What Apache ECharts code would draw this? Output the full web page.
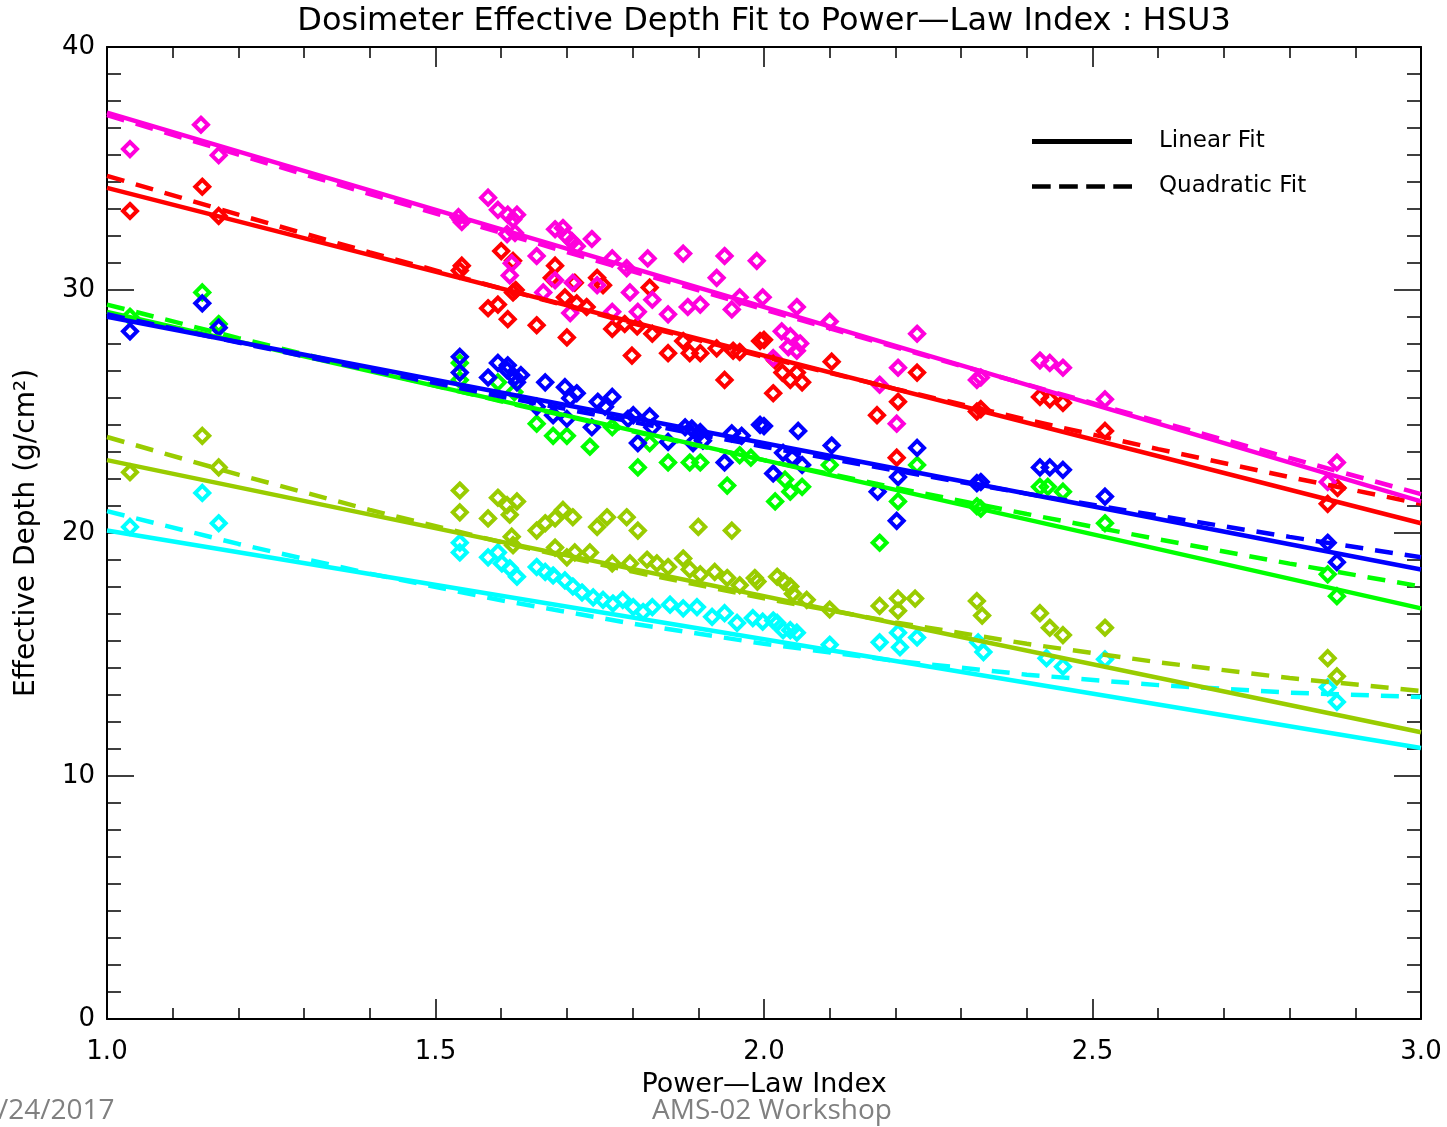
<!DOCTYPE html>
<html>
<head>
<meta charset="utf-8">
<script src="https://cdn.jsdelivr.net/npm/echarts@6/dist/echarts.min.js"></script>
<style>
html,body{margin:0;padding:0;background:#fff;}
#chart{width:1447px;height:1127px;}
</style>
</head>
<body>
<div id="chart"></div>
<script>
// ---- Data ----
const xTicks = [1.0, 1.5, 2.0, 2.5, 3.0];
const yTicks = [0, 10, 20, 30, 40];

const linX = [1.0, 3.0];
const magentaLin = [37.3, 21.3];
const redLin = [34.2, 20.4];
const blueLin = [28.9, 18.5];
const greenLin = [29.1, 16.9];
const ygLin = [23.0, 11.8];
const cyanLin = [20.1, 11.15];

const quadX = [1.0, 1.2, 1.4, 1.6, 1.8, 2.0, 2.2, 2.4, 2.6, 2.8, 3.0];
const magentaQuad = [37.2, 35.57, 33.95, 32.35, 30.77, 29.2, 27.65, 26.11, 24.59, 23.09, 21.6];
const redQuad = [34.7, 33.10, 31.55, 30.06, 28.63, 27.25, 25.93, 24.66, 23.45, 22.30, 21.2];
const blueQuad = [29.0, 27.84, 26.71, 25.62, 24.57, 23.55, 22.57, 21.62, 20.71, 19.84, 19.0];
const greenQuad = [29.4, 28.02, 26.70, 25.42, 24.18, 23.0, 21.86, 20.78, 19.74, 18.74, 17.8];
const ygQuad = [23.95, 22.40, 20.95, 19.62, 18.41, 17.31, 16.32, 15.44, 14.68, 14.03, 13.5];
const cyanQuad = [20.9, 19.55, 18.33, 17.23, 16.27, 15.44, 14.74, 14.17, 13.74, 13.43, 13.25];

const magentaPts = [[1.035,35.8],[1.143,36.8],[1.170,35.55],[1.535,33.0],[1.54,32.8],
 [1.580,33.8],[1.595,33.3],[1.610,33.1],[1.624,33.1],[1.618,32.9],[1.609,32.3],[1.621,32.35],[1.616,31.1],[1.613,30.6],
 [1.654,31.4],[1.664,29.9],[1.682,32.5],[1.694,32.55],[1.700,32.2],[1.708,32.0],[1.715,31.8],[1.738,32.1],[1.682,30.4],
 [1.709,30.3],[1.705,29.05],[1.746,30.2],[1.769,31.3],[1.769,29.1],[1.791,30.9],[1.796,29.9],[1.808,29.1],[1.823,31.3],
 [1.830,29.6],[1.854,29.0],[1.877,31.5],[1.884,29.3],[1.903,29.4],[1.928,30.5],[1.940,31.4],[1.951,29.2],[1.963,29.7],
 [1.989,31.2],[1.998,29.7],[2.014,27.2],[2.027,28.3],[2.040,28.1],[2.037,27.65],[2.055,27.8],[2.050,27.5],[2.050,29.3],
 [2.100,28.7],[2.176,26.1],[2.202,24.5],[2.233,28.2],[2.204,26.8],[2.324,26.3],[2.33,26.4],[2.42,27.1],[2.435,27.0],
 [2.455,26.8],[2.519,25.5],[2.872,22.9],[2.858,22.1]];

const redPts = [[1.035,33.25],[1.145,34.25],[1.170,33.05],[1.537,30.8],[1.54,31.0],
 [1.600,31.6],[1.618,31.2],[1.580,29.25],[1.595,29.4],[1.610,28.8],[1.618,29.9],[1.622,30.0],[1.654,28.55],[1.682,31.0],
 [1.677,30.5],[1.700,28.05],[1.697,29.7],[1.715,29.45],[1.730,29.3],[1.712,30.3],[1.746,30.5],[1.755,30.2],[1.769,28.4],
 [1.788,28.6],[1.807,28.5],[1.799,27.3],[1.826,30.1],[1.830,28.2],[1.854,27.4],[1.877,27.9],[1.887,27.4],[1.903,27.4],
 [1.928,27.6],[1.940,26.3],[1.953,27.5],[1.963,27.45],[1.994,27.9],[2.0,27.95],[2.017,27.1],[2.014,25.75],[2.028,26.6],
 [2.040,26.3],[2.050,26.6],[2.058,26.2],[2.103,27.05],[2.172,24.85],[2.204,25.4],[2.233,26.6],[2.202,23.1],[2.324,25.0],
 [2.33,25.1],[2.42,25.6],[2.435,25.5],[2.455,25.35],[2.519,24.2],[2.873,21.85],[2.858,21.2]];

const bluePts = [[1.035,28.3],[1.145,29.45],[1.170,28.45],[1.537,27.25],[1.537,26.6],
 [1.580,26.4],[1.595,27.0],[1.609,26.7],[1.621,26.4],[1.624,26.2],[1.61,26.9],[1.63,26.5],[1.654,25.2],[1.667,26.2],
 [1.679,24.85],[1.697,26.0],[1.705,25.55],[1.715,25.75],[1.700,24.7],[1.738,24.35],[1.747,25.4],[1.769,25.6],[1.758,25.2],
 [1.793,24.7],[1.801,24.85],[1.808,23.7],[1.826,24.8],[1.830,24.35],[1.854,23.75],[1.880,24.35],[1.890,24.3],[1.903,24.15],
 [1.892,23.7],[1.907,23.8],[1.940,22.9],[1.951,24.1],[1.966,24.0],[1.994,24.45],[2.0,24.4],[2.014,22.45],[2.029,23.3],
 [2.043,23.1],[2.058,22.8],[2.052,24.2],[2.103,23.6],[2.173,21.7],[2.233,23.5],[2.204,22.3],[2.202,20.5],[2.324,22.05],
 [2.33,22.1],[2.42,22.7],[2.435,22.7],[2.455,22.6],[2.519,21.5],[2.858,19.6],[2.872,18.8]];

const greenPts = [[1.035,28.9],[1.145,29.9],[1.170,28.6],[1.537,27.0],[1.537,26.3],
 [1.595,26.2],[1.62,25.8],[1.654,24.5],[1.679,24.0],[1.700,24.0],[1.735,23.55],[1.769,24.35],[1.808,22.7],[1.826,23.7],
 [1.854,22.9],[1.887,22.9],[1.903,22.9],[1.944,21.95],[1.963,23.2],[1.98,23.1],[2.017,21.3],[2.040,21.7],[2.058,21.9],
 [2.032,22.2],[2.100,22.8],[2.176,19.6],[2.233,22.8],[2.204,21.3],[2.324,21.1],[2.33,21.0],[2.42,21.9],[2.432,21.9],
 [2.455,21.7],[2.519,20.4],[2.858,18.3],[2.872,17.4]];

const ygPts = [[1.035,22.5],[1.145,24.0],[1.170,22.7],[1.537,21.75],[1.537,20.85],[1.58,20.6],[1.595,21.45],[1.609,21.15],
 [1.624,21.3],[1.613,20.75],[1.616,19.85],[1.618,19.5],[1.654,20.1],[1.667,20.4],[1.682,20.6],[1.694,20.95],[1.709,20.65],
 [1.746,20.25],[1.761,20.65],[1.791,20.65],[1.808,20.1],[1.9,20.25],[1.951,20.1],
 [1.682,19.4],[1.700,19.0],[1.712,19.2],[1.735,19.2],[1.769,18.75],[1.796,18.75],[1.822,18.9],[1.837,18.75],[1.854,18.6],
 [1.877,18.95],[1.887,18.5],[1.903,18.3],[1.925,18.4],[1.944,18.15],[1.963,17.85],[1.986,18.15],[1.99,18.0],[2.020,18.2],
 [2.03,18.0],[2.04,17.8],[2.044,17.5],[2.065,17.25],[2.1,16.85],
 [2.176,17.0],[2.204,17.3],[2.204,16.8],[2.230,17.3],[2.324,17.2],[2.332,16.6],[2.42,16.7],[2.435,16.1],[2.455,15.8],
 [2.519,16.1],[2.858,14.85],[2.872,14.1]];

const cyanPts = [[1.035,20.25],[1.145,21.65],[1.170,20.4],[1.537,19.6],[1.537,19.2],[1.580,19.0],[1.595,19.2],[1.601,18.75],
 [1.613,18.55],[1.624,18.2],[1.654,18.6],[1.667,18.4],[1.679,18.25],[1.697,18.05],[1.709,17.8],[1.723,17.55],[1.740,17.35],
 [1.755,17.25],[1.770,17.1],[1.785,17.25],[1.801,16.95],[1.816,16.75],[1.830,16.95],[1.857,17.05],[1.877,16.9],[1.898,16.95],
 [1.921,16.55],[1.940,16.7],[1.959,16.3],[1.983,16.5],[1.998,16.35],[2.014,16.4],[2.02,16.3],[2.029,16.0],[2.04,16.0],
 [2.050,15.9],[2.100,15.4],[2.176,15.5],[2.204,15.9],[2.207,15.3],[2.233,15.7],[2.326,15.5],[2.334,15.1],[2.430,14.85],
 [2.455,14.5],[2.519,14.8],[2.858,13.65],[2.872,13.05]];

const legendNames = ['Linear Fit', 'Quadratic Fit'];

// ---- Styling ----
const FONT = 'DejaVu Sans';
const groups = [
  {name:'cyan', color:'#00ffff', pts:cyanPts, lin:cyanLin, quad:cyanQuad},
  {name:'yg', color:'#99cc00', pts:ygPts, lin:ygLin, quad:ygQuad},
  {name:'green', color:'#00ff00', pts:greenPts, lin:greenLin, quad:greenQuad},
  {name:'blue', color:'#0000ff', pts:bluePts, lin:blueLin, quad:blueQuad},
  {name:'red', color:'#ff0000', pts:redPts, lin:redLin, quad:redQuad},
  {name:'magenta', color:'#ff00dc', pts:magentaPts, lin:magentaLin, quad:magentaQuad}
];

const series = [];
groups.forEach(g => {
  series.push({
    type:'scatter', name:g.name+' pts', data:g.pts, symbol:'diamond', symbolSize:14,
    itemStyle:{color:'rgba(255,255,255,0)', borderColor:g.color, borderWidth:4, opacity:1},
    silent:true, z:2
  });
});
groups.forEach(g => {
  series.push({
    type:'line', name:g.name+' lin', data:linX.map((x,i)=>[x,g.lin[i]]), showSymbol:false, symbol:'none',
    lineStyle:{color:g.color, width:4.5, type:'solid'}, silent:true, z:3
  });
  series.push({
    type:'line', name:g.name+' quad', data:quadX.map((x,i)=>[x,g.quad[i]]), showSymbol:false, symbol:'none',
    lineStyle:{color:g.color, width:4.5, type:[18,12]}, silent:true, z:3
  });
});
series.push({type:'line', name:legendNames[0], data:[], symbol:'none', color:'#000', lineStyle:{color:'#000', width:5}});
series.push({type:'line', name:legendNames[1], data:[], symbol:'none', color:'#000', lineStyle:{color:'#000', width:5, type:[20,8]}});

const axisLine = {show:true, onZero:false, lineStyle:{color:'#000', width:2}};
const tickStyle = {color:'#000', width:1.5};

const chart = echarts.init(document.getElementById('chart'), null, {renderer:'canvas'});
chart.setOption({
  animation:false,
  backgroundColor:'#fff',
  grid:{left:107, right:26, top:47, bottom:108, containLabel:false},
  legend:{
    data:[
      {name:legendNames[0], icon:'rect'},
      {name:legendNames[1], icon:'path://M0,0H20V5H0Z M29,0H49V5H29Z M58,0H78V5H58Z M87,0H107V5H87Z'}
    ],
    orient:'vertical', left:1027, top:125,
    itemWidth:100, itemHeight:5, itemGap:22, selectedMode:false,
    textStyle:{fontFamily:FONT, fontSize:23, color:'#000', padding:[0,0,4,22]}
  },
  xAxis:[
    {type:'value', min:1, max:3, interval:0.5, position:'bottom',
     axisLine:axisLine,
     axisTick:{show:true, inside:true, length:20, lineStyle:tickStyle},
     minorTick:{show:true, splitNumber:5, length:11, lineStyle:tickStyle},
     splitLine:{show:false}, minorSplitLine:{show:false},
     axisLabel:{formatter:v=>v.toFixed(1), fontFamily:FONT, fontSize:26, color:'#000', margin:20},
     name:'Power\u2014Law Index', nameLocation:'middle', nameGap:52,
     nameTextStyle:{fontFamily:FONT, fontSize:27, color:'#000'}},
    {type:'value', min:1, max:3, interval:0.5, position:'top',
     axisLine:axisLine,
     axisTick:{show:true, inside:true, length:20, lineStyle:tickStyle},
     minorTick:{show:true, splitNumber:5, length:11, lineStyle:tickStyle},
     splitLine:{show:false}, axisLabel:{show:false}}
  ],
  yAxis:[
    {type:'value', min:0, max:40, interval:10, position:'left',
     axisLine:axisLine,
     axisTick:{show:true, inside:true, length:27, lineStyle:tickStyle},
     minorTick:{show:true, splitNumber:9, length:14, lineStyle:tickStyle},
     splitLine:{show:false}, minorSplitLine:{show:false},
     axisLabel:{fontFamily:FONT, fontSize:26, color:'#000', margin:12},
     name:'Effective Depth (g/cm\u00b2)', nameLocation:'middle', nameGap:66, nameRotate:90,
     nameTextStyle:{fontFamily:FONT, fontSize:28, color:'#000'}},
    {type:'value', min:0, max:40, interval:10, position:'right',
     axisLine:axisLine,
     axisTick:{show:true, inside:true, length:27, lineStyle:tickStyle},
     minorTick:{show:true, splitNumber:9, length:14, lineStyle:tickStyle},
     splitLine:{show:false}, axisLabel:{show:false}}
  ],
  graphic:[
    {type:'text', x:764, y:22, silent:true,
     style:{text:'Dosimeter Effective Depth Fit to Power\u2014Law Index : HSU3', fill:'#000',
            font:'32px "DejaVu Sans"', align:'center', verticalAlign:'middle'}},
    {type:'text', x:-2, y:1111, silent:true,
     style:{text:'/24/2017', fill:'#808080', font:'28px "Open Sans"', align:'left', verticalAlign:'middle'}},
    {type:'text', x:772, y:1111, silent:true,
     style:{text:'AMS-02 Workshop', fill:'#808080', font:'28px "Open Sans"', align:'center', verticalAlign:'middle'}}
  ],
  series:series
});
</script>
</body>
</html>
